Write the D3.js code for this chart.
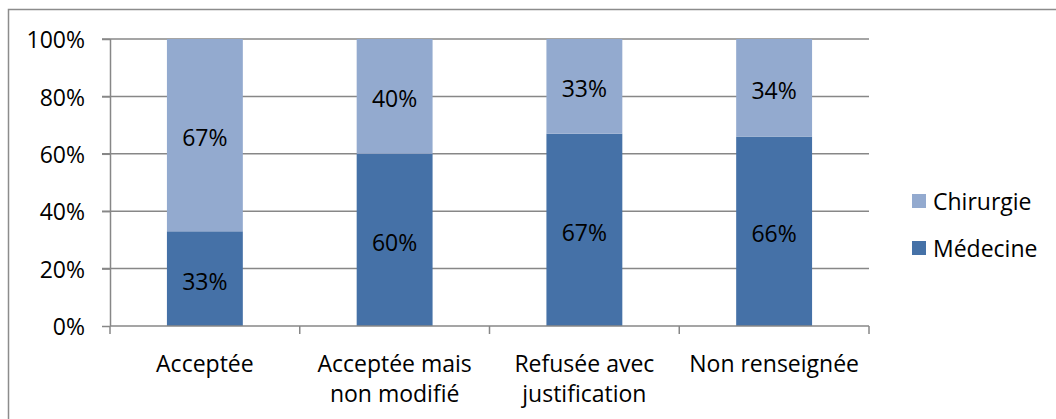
<!DOCTYPE html>
<html>
<head>
<meta charset="utf-8">
<script src="https://cdn.jsdelivr.net/npm/d3@7"></script>
<style>
body{margin:0;background:#fff;}
svg{display:block;font-family:"Open Sans",sans-serif;}
</style>
</head>
<body>
<svg id="c" width="1056" height="419"></svg>
<script>
const categories = [["Acceptée"], ["Acceptée mais", "non modifié"], ["Refusée avec", "justification"], ["Non renseignée"]];
const medecine = [33, 60, 67, 66];
const chirurgie = [67, 40, 33, 34];
const yTicks = [0, 20, 40, 60, 80, 100];
const seriesNames = ["Médecine", "Chirurgie"];
const colors = {"Médecine": "#4571A7", "Chirurgie": "#93AACF"};

const svg = d3.select("#c");
const fs = 23;
// chart border
svg.append("rect").attr("x", 8.5).attr("y", 9.5).attr("width", 1100).attr("height", 500)
  .attr("fill", "#fff").attr("stroke", "#8c8c8c").attr("stroke-width", 1.5);

const m = {l: 110, r: 869, t: 39, b: 326};
const x = d3.scaleBand().domain(d3.range(categories.length)).range([m.l, m.r]).paddingInner(0.6).paddingOuter(0.3);
const y = d3.scaleLinear().domain([0, 100]).range([m.b, m.t]);

// gridlines
svg.append("g").selectAll("line").data(yTicks.filter(d => d > 0)).join("line")
  .attr("x1", m.l - 8).attr("x2", m.r).attr("y1", d => y(d)).attr("y2", d => y(d))
  .attr("stroke", "#878787").attr("stroke-width", 1.5);

// y axis
const ya = svg.append("g").attr("transform", `translate(${m.l},0)`)
  .call(d3.axisLeft(y).tickValues(yTicks).tickFormat(d => d + "%").tickSize(8).tickPadding(17));
ya.select(".domain").attr("stroke", "#878787").attr("stroke-width", 1.5).attr("d", `M0.5,${m.t}V${m.b}`);
ya.selectAll(".tick line").attr("stroke", "#878787").attr("stroke-width", 1.5);
ya.selectAll(".tick text").attr("font-size", fs).attr("font-family", "Open Sans").attr("fill", "#000").attr("dy", "0.38em");

// stacked bars
const rows = categories.map((c, i) => ({i, "Médecine": medecine[i], "Chirurgie": chirurgie[i]}));
const stack = d3.stack().keys(seriesNames)(rows);
const g = svg.append("g");
stack.forEach(s => {
  g.selectAll(null).data(s).join("rect")
    .attr("x", d => x(d.data.i)).attr("width", x.bandwidth())
    .attr("y", d => y(Math.min(d[1], 100))).attr("height", d => y(d[0]) - y(Math.min(d[1], 100)))
    .attr("fill", colors[s.key]);
  g.selectAll(null).data(s).join("text")
    .attr("x", d => x(d.data.i) + x.bandwidth() / 2)
    .attr("y", d => (y(d[0]) + y(Math.min(d[1], 100))) / 2)
    .attr("dy", "0.48em").attr("text-anchor", "middle").attr("font-size", fs).attr("fill", "#000")
    .text(d => (d[1] - d[0]) + "%");
});

// x axis
const xa = svg.append("g");
xa.append("line").attr("x1", m.l).attr("x2", m.r).attr("y1", m.b).attr("y2", m.b)
  .attr("stroke", "#878787").attr("stroke-width", 1.5);
const step = (m.r - m.l) / categories.length;
xa.selectAll("line.t").data(d3.range(categories.length + 1)).join("line").attr("class", "t")
  .attr("x1", d => m.l + d * step).attr("x2", d => m.l + d * step)
  .attr("y1", m.b).attr("y2", m.b + 8).attr("stroke", "#878787").attr("stroke-width", 1.5);
const lbl = xa.selectAll("text").data(categories).join("text")
  .attr("text-anchor", "middle").attr("font-size", fs).attr("fill", "#000")
  .attr("x", (d, i) => x(i) + x.bandwidth() / 2).attr("y", 363);
lbl.selectAll("tspan").data(d => d).join("tspan")
  .attr("x", function() { return this.parentNode.getAttribute("x"); })
  .attr("dy", (d, j) => j === 0 ? "0.38em" : "30px").text(d => d);

// legend
const leg = svg.append("g");
const legItems = ["Chirurgie", "Médecine"];
legItems.forEach((k, i) => {
  const cy = 201 + i * 47;
  leg.append("rect").attr("x", 912).attr("y", cy - 7).attr("width", 14).attr("height", 14).attr("fill", colors[k]);
  leg.append("text").attr("x", 933).attr("y", cy).attr("dy", "0.38em").attr("font-size", fs).attr("fill", "#000").text(k);
});
</script>
</body>
</html>
